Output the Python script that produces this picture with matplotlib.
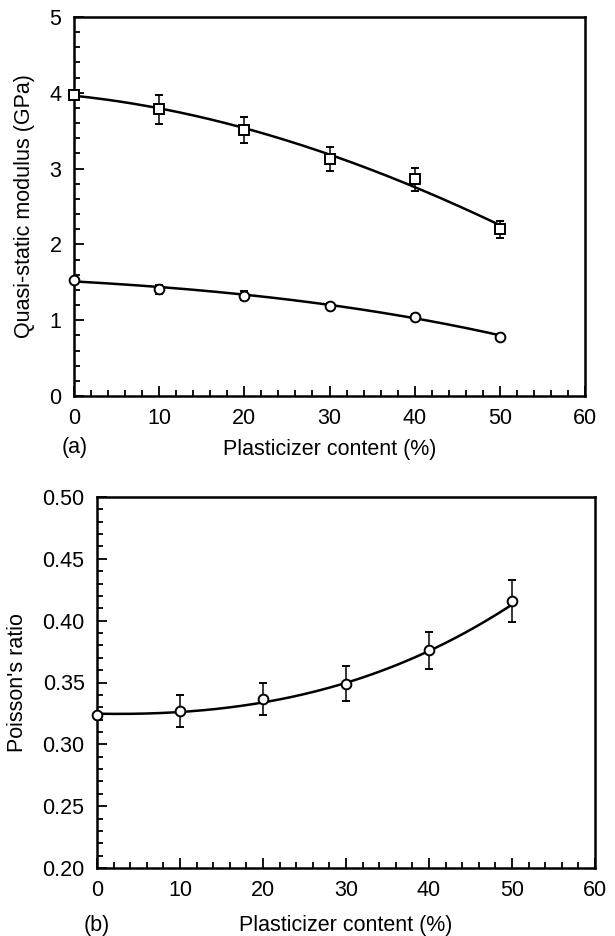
import numpy as np
import matplotlib
matplotlib.use('Agg')
import matplotlib.pyplot as plt
from matplotlib.ticker import MultipleLocator

plt.rcParams['font.family'] = ['Liberation Sans', 'DejaVu Sans']

# plasticizer content (%)
x_pts = [0, 10, 20, 30, 40, 50]

# (a) quasi-static modulus, upper series (squares)
mod_sq = [3.97, 3.78, 3.51, 3.13, 2.86, 2.20]
mod_sq_err = [0.05, 0.19, 0.17, 0.16, 0.15, 0.11]
# (a) lower series (circles)
mod_ci = [1.53, 1.41, 1.32, 1.19, 1.04, 0.78]
mod_ci_err = [0.03, 0.06, 0.06, 0.04, 0.04, 0.02]

# fitted curves
x_fit = [0, 5, 10, 15, 20, 25, 30, 35, 40, 45, 50]
fit_sq = [3.96, 3.89, 3.80, 3.68, 3.53, 3.37, 3.18, 2.98, 2.76, 2.52, 2.25]
fit_ci = [1.51, 1.48, 1.44, 1.39, 1.34, 1.27, 1.20, 1.12, 1.03, 0.92, 0.80]

# (b) Poisson's ratio
pr = [0.324, 0.327, 0.337, 0.349, 0.376, 0.416]
pr_err = [0.0, 0.013, 0.013, 0.014, 0.015, 0.017]
fit_pr = [0.325, 0.3245, 0.326, 0.329, 0.334, 0.341, 0.350, 0.361, 0.375, 0.393, 0.413]

FS = 15.5

fig = plt.figure(figsize=(6.15, 9.36), dpi=100)
ax1 = fig.add_axes([74/615, 1-396/936, (585-74)/615, (396-17)/936])
ax2 = fig.add_axes([97/615, 1-868/936, (595-97)/615, (868-497)/936])


def style(ax):
    for s in ax.spines.values():
        s.set_linewidth(1.8)
    ax.tick_params(which='both', direction='in', top=False, right=False,
                   labelsize=FS, pad=9, width=1.3)
    ax.tick_params(which='major', length=7)
    ax.tick_params(which='minor', length=4)
    ax.xaxis.set_major_locator(MultipleLocator(10))
    ax.xaxis.set_minor_locator(MultipleLocator(2))
    ax.set_xlim(0, 60)


def smooth(xs, ys, deg):
    c = np.polyfit(xs, ys, deg)
    xx = np.linspace(min(xs), max(xs), 200)
    return xx, np.polyval(c, xx)


# panel (a)
xx, yy = smooth(x_fit, fit_sq, 3)
ax1.plot(xx, yy, color='black', lw=1.8, zorder=2)
xx, yy = smooth(x_fit, fit_ci, 3)
ax1.plot(xx, yy, color='black', lw=1.8, zorder=2)
ax1.errorbar(x_pts, mod_sq, yerr=mod_sq_err, fmt='s', ms=7, mfc='white',
             mec='black', mew=1.4, ecolor='black', elinewidth=1.1, capsize=3,
             zorder=3, clip_on=False)
ax1.errorbar(x_pts, mod_ci, yerr=mod_ci_err, fmt='o', ms=7, mfc='white',
             mec='black', mew=1.4, ecolor='black', elinewidth=1.1, capsize=3,
             zorder=3, clip_on=False)
style(ax1)
ax1.set_ylim(0, 5)
ax1.yaxis.set_major_locator(MultipleLocator(1))
ax1.yaxis.set_minor_locator(MultipleLocator(0.2))
ax1.set_ylabel('Quasi-static modulus (GPa)', fontsize=FS, labelpad=10)
ax1.set_xlabel('Plasticizer content (%)', fontsize=FS, labelpad=7)
fig.text(75/615, 1-447/936, '(a)', fontsize=FS, ha='center', va='center')

# panel (b)
xx, yy = smooth(x_fit, fit_pr, 3)
ax2.plot(xx, yy, color='black', lw=1.8, zorder=2)
ax2.errorbar(x_pts, pr, yerr=pr_err, fmt='o', ms=7, mfc='white',
             mec='black', mew=1.4, ecolor='black', elinewidth=1.1, capsize=3,
             zorder=3, clip_on=False)
style(ax2)
ax2.set_ylim(0.20, 0.50)
ax2.yaxis.set_major_locator(MultipleLocator(0.05))
ax2.yaxis.set_minor_locator(MultipleLocator(0.01))
ax2.yaxis.set_major_formatter(plt.FormatStrFormatter('%.2f'))
ax2.set_ylabel("Poisson's ratio", fontsize=FS, labelpad=10)
ax2.set_xlabel('Plasticizer content (%)', fontsize=FS, labelpad=10)
fig.text(97/615, 1-925/936, '(b)', fontsize=FS, ha='center', va='center')

fig.savefig('out.png', dpi=100)
